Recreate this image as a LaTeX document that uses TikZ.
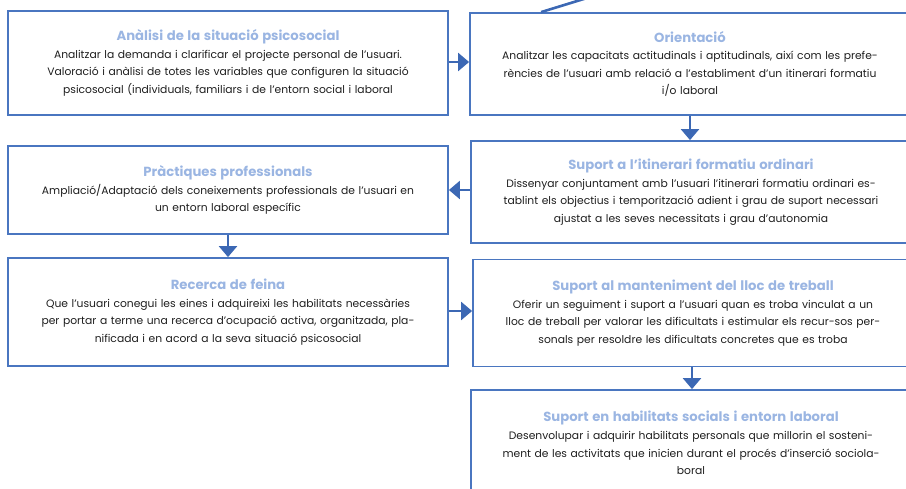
\documentclass[tikz,border=0pt]{standalone}
\usepackage{fontspec}
\setmainfont{Poppins}
\usepackage{tikz}
\usetikzlibrary{positioning, arrows.meta, calc}

\definecolor{boxblue}{HTML}{4A76C0}
\definecolor{arrowblue}{HTML}{3C68B4}
\definecolor{titleblue}{HTML}{9AB5E2}
\definecolor{bodytext}{HTML}{1E1E1E}

\newcommand{\stagetitle}[1]{{\color{titleblue}\fontsize{13.2}{17.8}\selectfont\bfseries #1}}

\begin{document}
\begin{tikzpicture}[
    x=1pt, y=-1pt,
    stage/.style={rectangle, draw=boxblue, line width=1.8pt, align=center,
        text width=430pt, minimum width=440pt, text=bodytext,
        font=\fontsize{10.75}{17.6}\selectfont},
    arrow/.style={-{Triangle[length=11pt, width=18pt]}, line width=2.4pt, arrowblue},
]
\useasboundingbox (0,0) rectangle (906,488);
\clip (0,0) rectangle (906,488);

% Left column
\node[stage, minimum height=104pt] (situacio) at (228, 63) {\stagetitle{Anàlisi de la situació psicosocial}\\
    Analitzar la demanda i clarificar el projecte personal de l’usuari.\\
    Valoració i anàlisi de totes les variables que configuren la situació\\
    psicosocial (individuals, familiars i de l’entorn social i laboral};
\node[stage, minimum height=88pt] (practiques) at (228, 190) {\stagetitle{Pràctiques professionals}\\
    Ampliació/Adaptació dels coneixements professionals de l’usuari en\\
    un entorn laboral específic};
\node[stage, minimum height=108pt] (feina) at (228, 312) {\stagetitle{Recerca de feina}\\
    Que l’usuari conegui les eines i adquireixi les habilitats necessàries\\
    per portar a terme una recerca d’ocupació activa, organitzada, pla-\\
    nificada i en acord a la seva situació psicosocial};

% Right column
\node[stage, minimum height=102pt] (orientacio) at (690, 64) {\stagetitle{Orientació}\\
    Analitzar les capacitats actitudinals i aptitudinals, així com les prefe-\\
    rències de l’usuari amb relació a l’establiment d’un itinerari formatiu\\
    i/o laboral};
\node[stage, minimum height=102pt] (itinerari) at (691, 192) {\stagetitle{Suport a l’itinerari formatiu ordinari}\\
    Dissenyar conjuntament amb l’usuari l’itinerari formatiu ordinari es-\\
    tablint els objectius i temporització adient i grau de suport necessari\\
    ajustat a les seves necessitats i grau d’autonomia};
\node[stage, minimum height=107pt] (manteniment) at (693, 313) {\stagetitle{Suport al manteniment del lloc de treball}\\
    Oferir un seguiment i suport a l’usuari quan es troba vinculat a un\\
    lloc de treball per valorar les dificultats i estimular els recur-sos per-\\
    sonals per resoldre les dificultats concretes que es troba};
\node[stage, minimum height=106pt] (habilitats) at (691, 443) {\stagetitle{Suport en habilitats socials i entorn laboral}\\
    Desenvolupar i adquirir habilitats personals que millorin el sosteni-\\
    ment de les activitats que inicien durant el procés d’inserció sociola-\\
    boral};

% Arrows
\draw[arrow] (situacio.east |- 0,62) -- (orientacio.west |- 0,62);
\draw[arrow] (orientacio.south) -- (itinerari.north -| orientacio.south);
\draw[arrow] (itinerari.west |- practiques.east) -- (practiques.east);
\draw[arrow] (practiques.south) -- (feina.north -| practiques.south);
\draw[arrow] (feina.east |- 0,311) -- (manteniment.west |- 0,311);
\draw[arrow] (manteniment.south -| 692,0) -- (habilitats.north -| 692,0);

% Line coming in from above
\coordinate (incoming) at (626, -14);
\draw[arrowblue, line width=2.6pt] ($(orientacio.north west)+(72,0)$) -- (incoming);

\end{tikzpicture}
\end{document}
